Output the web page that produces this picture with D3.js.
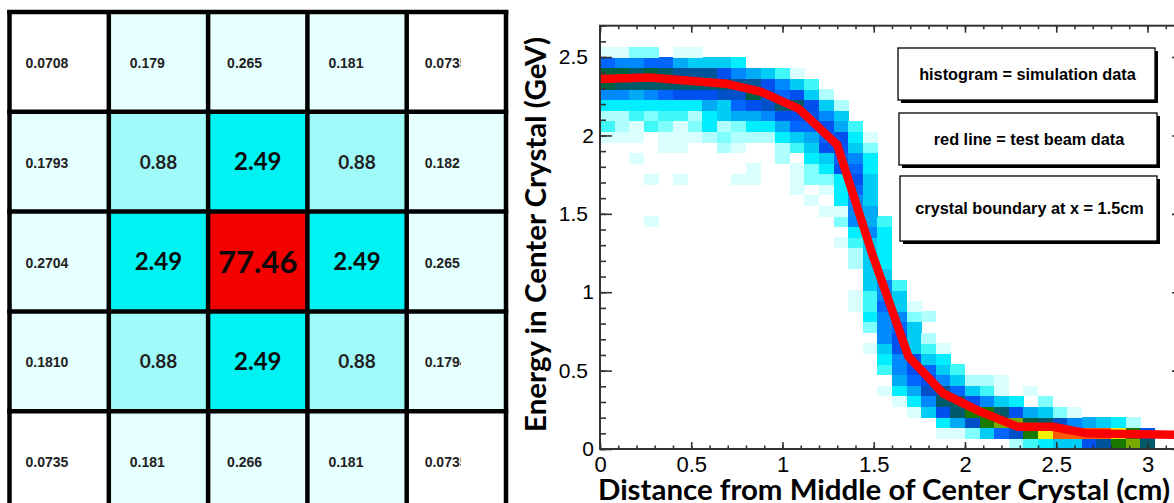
<!DOCTYPE html>
<html><head><meta charset="utf-8">
<script src="https://cdn.jsdelivr.net/npm/d3@7"></script>
<style>
html,body{margin:0;padding:0;background:#fff;}
svg{display:block;}
</style></head><body>
<svg id="c" width="1174" height="503"></svg>
<script>
// ---------- left panel: energy sharing in a 5x5 crystal array (%) ----------
const crystalRows = [0, 1, 2, 3, 4];
const crystalCols = [0, 1, 2, 3, 4];
const crystalValues = [
  [0.0708, 0.179, 0.265, 0.181, 0.0735],
  [0.1793, 0.88, 2.49, 0.88, 0.182],
  [0.2704, 2.49, 77.46, 2.49, 0.265],
  [0.1810, 0.88, 2.49, 0.88, 0.1794],
  [0.0735, 0.181, 0.266, 0.181, 0.0735]
];
const crystalLabels = [
  ["0.0708", "0.179", "0.265", "0.181", "0.0735"],
  ["0.1793", "0.88", "2.49", "0.88", "0.182"],
  ["0.2704", "2.49", "77.46", "2.49", "0.265"],
  ["0.1810", "0.88", "2.49", "0.88", "0.1794"],
  ["0.0735", "0.181", "0.266", "0.181", "0.0735"]
];
const cellThresholds = [0.1, 0.5, 1, 10];
const cellColors = ["#ffffff", "#e6ffff", "#a0fafa", "#00f3f3", "#f40000"];

// ---------- right panel: 2D histogram (simulation) + test beam line ----------
const xBinWidth = 0.08;
const yBinHeight = 0.0675;
// histogram rows, bottom (row 0) to top; "start:levels" segments, level chars base 36
const histRows = [
  "28:24566acfgd",
  "23:11369bfhiiiihfa",
  "23:57bfggedb87652",
  "21:16adffda7631",
  "20:158dda86503",
  "19:157bc964101",
  "20:79a86221",
  "19:48a964",
  "19:58a65",
  "18:16a641",
  "19:8a62",
  "18:3896",
  "18:58832",
  "17:14961",
  "17:1486",
  "18:684",
  "18:66",
  "17:265",
  "17:265",
  "16:1465",
  "17:585",
  "3:1 16:3874",
  "15:1187",
  "14:1 16:586",
  "13:1 15:1596",
  "3:1 5:1 9:11 13:1335a6",
  "10:1 13:135a95",
  "2:1 12:2 14:56985",
  "4:11 8:21 12:246aa63",
  "0:1110111232225679a51",
  "0:421431352355799a74",
  "0:224344256778aaa86",
  "0:5555555769abdda62",
  "0:88789aaabbeb9a62",
  "0:eddddddddcca864",
  "0:eededccca87641",
  "0:9889976665",
  "0:1133011"
];
const histPalette = ["#ffffff", "#d9ffff", "#b0ffff", "#80ffff", "#40f8f8", "#00eeff",
  "#00ccf5", "#00aaf5", "#0088ff", "#0066ff", "#0050f0", "#0050c8", "#00559a",
  "#005a6a", "#006040", "#1a7a00", "#7aaa00", "#f0f000", "#ff5a00"];
const beamX = [0, 0.27, 0.69, 0.88, 1.09, 1.30, 1.49, 1.69, 1.88, 2.08, 2.29, 2.48, 2.67, 2.88, 3.2];
const beamY = [2.36, 2.37, 2.33, 2.28, 2.17, 1.94, 1.25, 0.59, 0.355, 0.24, 0.142, 0.142, 0.10, 0.095, 0.09];
const xTicks = [0, 0.5, 1, 1.5, 2, 2.5, 3];
const yTicks = [0, 0.5, 1, 1.5, 2, 2.5];
const xTitle = "Distance from Middle of Center Crystal (cm)";
const yTitle = "Energy in Center Crystal (GeV)";
const legendTexts = ["histogram = simulation data", "red line = test beam data", "crystal boundary at x = 1.5cm"];

const svg = d3.select("#c");

// ================= LEFT PANEL =================
const gx = d3.scaleBand().domain(crystalCols).range([9.5, 506]);
const gy = d3.scaleBand().domain(crystalRows).range([12, 511]);
const cellColor = d3.scaleThreshold().domain(cellThresholds).range(cellColors);
const cellFont = d3.scaleThreshold().domain([0.5, 1, 10]).range([14, 19, 24, 31]);
const smallOffset = [16, 21, 19, 21, 18];
const cells = [];
crystalValues.forEach((row, r) => row.forEach((v, c) => cells.push({r, c, v, label: crystalLabels[r][c]})));

const left = svg.append("g");
left.selectAll("rect.cell").data(cells).join("rect").attr("class", "cell")
  .attr("x", d => gx(d.c)).attr("y", d => gy(d.r))
  .attr("width", gx.bandwidth()).attr("height", gy.bandwidth())
  .attr("fill", d => cellColor(d.v));

const defs = svg.append("defs");
defs.append("clipPath").attr("id", "col4clip").append("rect")
  .attr("x", gx(4)).attr("y", 0).attr("width", 461 - gx(4)).attr("height", 520);

left.selectAll("text.cell").data(cells).join("text").attr("class", "cell")
  .attr("clip-path", d => d.c === 4 ? "url(#col4clip)" : null)
  .attr("x", d => d.v < 0.5 ? gx(d.c) + smallOffset[d.c] : gx(d.c) + gx.bandwidth() / 2)
  .attr("y", d => {
    const cy = gy(d.r) + gy.bandwidth() / 2;
    return d.v < 0.5 ? cy + 6 : cy + cellFont(d.v) * 0.36;
  })
  .attr("text-anchor", d => d.v < 0.5 ? "start" : "middle")
  .attr("font-family", d => d.v < 0.5 ? "Liberation Sans, Arial, sans-serif" : "Lato, sans-serif")
  .attr("font-weight", "bold")
  .attr("font-size", d => cellFont(d.v))
  .attr("fill", d => d.v < 1 ? "#222" : "#0a0a0a")
  .text(d => d.label);

// grid lines
const vLines = crystalCols.map(c => gx(c)).concat([gx(4) + gx.bandwidth()]);
const hLines = crystalRows.map(r => gy(r)).concat([gy(4) + gy.bandwidth()]);
left.selectAll("line.v").data(vLines).join("line").attr("class", "v")
  .attr("x1", d => d).attr("x2", d => d).attr("y1", 10).attr("y2", 514)
  .attr("stroke", "#000").attr("stroke-width", 4.5);
left.selectAll("line.h").data(hLines).join("line").attr("class", "h")
  .attr("y1", d => d).attr("y2", d => d).attr("x1", 7.2).attr("x2", 508.3)
  .attr("stroke", "#000").attr("stroke-width", 4.5);

// ================= RIGHT PANEL =================
const x = d3.scaleLinear().domain([0, 3.2]).range([600, 1184]);
const y = d3.scaleLinear().domain([0, 2.7]).range([449, 25.7]);

defs.append("clipPath").attr("id", "frameclip").append("rect")
  .attr("x", x(0)).attr("y", y(2.7)).attr("width", x(3.2) - x(0)).attr("height", y(0) - y(2.7));

const bins = [];
histRows.forEach((row, j) => {
  row.split(" ").forEach(seg => {
    const [start, levels] = seg.split(":");
    [...levels].forEach((ch, k) => {
      const lv = parseInt(ch, 36);
      if (lv > 0) bins.push({i: +start + k, j, lv});
    });
  });
});

const plot = svg.append("g").attr("clip-path", "url(#frameclip)");
plot.selectAll("rect.bin").data(bins).join("rect").attr("class", "bin")
  .attr("x", d => x(d.i * xBinWidth))
  .attr("y", d => y((d.j + 1) * yBinHeight))
  .attr("width", d => x((d.i + 1) * xBinWidth) - x(d.i * xBinWidth) + 0.4)
  .attr("height", d => y(d.j * yBinHeight) - y((d.j + 1) * yBinHeight) + 0.4)
  .attr("fill", d => histPalette[d.lv])
  .attr("shape-rendering", "crispEdges");

const beam = beamX.map((v, k) => [v, beamY[k]]);
plot.append("path").datum(beam)
  .attr("d", d3.line().x(d => x(d[0])).y(d => y(d[1])))
  .attr("fill", "none").attr("stroke", "#ff0000").attr("stroke-width", 8.5)
  .attr("stroke-linejoin", "round");

// axes (ROOT style ticks inside the frame)
const xMinor = d3.range(0, 3.21, 0.1).map(v => +v.toFixed(2));
const yMinor = d3.range(0, 2.71, 0.1).map(v => +v.toFixed(2));
const axisColor = "#333";

function styleAxis(g) {
  g.select(".domain").remove();
  g.selectAll("line").attr("stroke", axisColor).attr("stroke-width", 1.6);
}

svg.append("g").attr("transform", `translate(0,${y(0)})`)
  .call(d3.axisBottom(x).tickValues(xMinor).tickSizeInner(-3.5).tickFormat(""))
  .call(styleAxis);
const xAx = svg.append("g").attr("transform", `translate(0,${y(0)})`)
  .call(d3.axisBottom(x).tickValues(xTicks).tickSizeInner(-7).tickPadding(7).tickFormat(d3.format("~g")))
  .call(styleAxis);
xAx.selectAll("text").attr("font-family", "Liberation Sans, Arial, sans-serif")
  .attr("font-size", 22).attr("fill", "#000");

svg.append("g").attr("transform", `translate(0,${y(2.7)})`)
  .call(d3.axisTop(x).tickValues(xMinor).tickSizeInner(-3.5).tickFormat("")).call(styleAxis);
svg.append("g").attr("transform", `translate(0,${y(2.7)})`)
  .call(d3.axisTop(x).tickValues(xTicks).tickSizeInner(-7).tickFormat("")).call(styleAxis);

svg.append("g").attr("transform", `translate(${x(0)},0)`)
  .call(d3.axisLeft(y).tickValues(yMinor).tickSizeInner(-6).tickFormat("")).call(styleAxis);
const yAx = svg.append("g").attr("transform", `translate(${x(0)},0)`)
  .call(d3.axisLeft(y).tickValues(yTicks).tickSizeInner(-12).tickPadding(12).tickFormat(d3.format("~g")))
  .call(styleAxis);
yAx.selectAll("text").attr("font-family", "Liberation Sans, Arial, sans-serif")
  .attr("font-size", 21).attr("fill", "#000")
  .attr("dx", d => Number.isInteger(d) ? 6 : 0);

svg.append("g").attr("transform", `translate(${x(3.2)},0)`)
  .call(d3.axisRight(y).tickValues(yMinor).tickSizeInner(-6).tickFormat("")).call(styleAxis);
svg.append("g").attr("transform", `translate(${x(3.2)},0)`)
  .call(d3.axisRight(y).tickValues(yTicks).tickSizeInner(-12).tickFormat("")).call(styleAxis);

// frame
svg.append("rect").attr("x", x(0)).attr("y", y(2.7))
  .attr("width", x(3.2) - x(0)).attr("height", y(0) - y(2.7))
  .attr("fill", "none").attr("stroke", axisColor).attr("stroke-width", 2);

// axis titles
svg.append("text").attr("x", 598).attr("y", 500)
  .attr("font-family", "Lato, sans-serif").attr("font-weight", "bold").attr("font-size", 28)
  .attr("textLength", 572).attr("lengthAdjust", "spacingAndGlyphs")
  .attr("fill", "#000").text(xTitle);
svg.append("text").attr("transform", "translate(546,432) rotate(-90)")
  .attr("font-family", "Lato, sans-serif").attr("font-weight", "bold").attr("font-size", 28)
  .attr("textLength", 395).attr("lengthAdjust", "spacingAndGlyphs")
  .attr("fill", "#000").text(yTitle);

// legend boxes
const boxes = [
  {x: 898, y: 48, w: 257, h: 52},
  {x: 899, y: 113, w: 258, h: 52},
  {x: 900, y: 176, w: 257, h: 65}
];
const lg = svg.append("g").selectAll("g").data(legendTexts).join("g");
lg.append("rect").attr("x", (d, k) => boxes[k].x + 3).attr("y", (d, k) => boxes[k].y + 3)
  .attr("width", (d, k) => boxes[k].w).attr("height", (d, k) => boxes[k].h).attr("fill", "#000");
lg.append("rect").attr("x", (d, k) => boxes[k].x).attr("y", (d, k) => boxes[k].y)
  .attr("width", (d, k) => boxes[k].w).attr("height", (d, k) => boxes[k].h)
  .attr("fill", "#fff").attr("stroke", "#000").attr("stroke-width", 1.3);
lg.append("text").attr("x", (d, k) => boxes[k].x + boxes[k].w / 2 + 1)
  .attr("y", (d, k) => boxes[k].y + boxes[k].h / 2 + 5.5)
  .attr("text-anchor", "middle").attr("font-family", "Liberation Sans, Arial, sans-serif")
  .attr("font-weight", "bold").attr("font-size", 16.3).attr("fill", "#000").text(d => d);
</script>
</body></html>
